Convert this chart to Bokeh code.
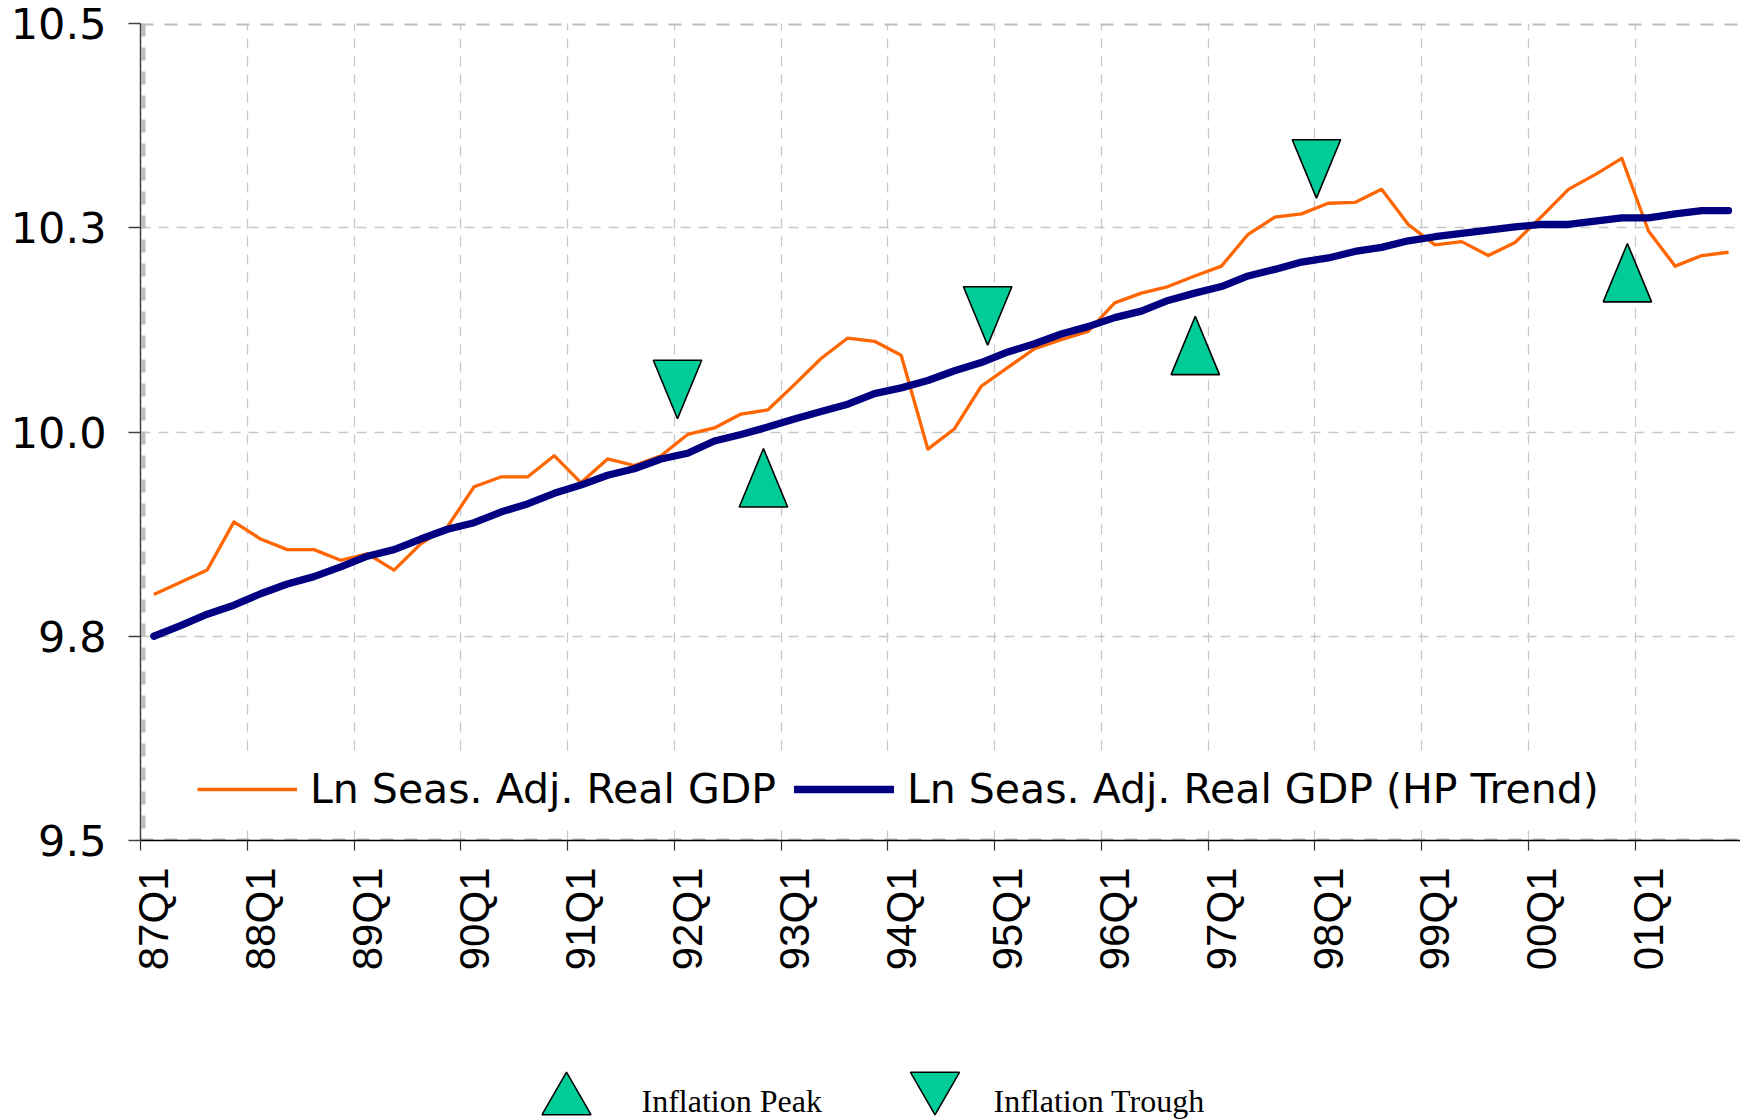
import math
from bokeh.plotting import figure
from bokeh.models import (Range1d, FixedTicker, LinearAxis, Span, Legend, LegendItem,
                          PrintfTickFormatter)
from bokeh.layouts import column
from bokeh.core.properties import value
from bokeh.embed import file_html
from bokeh.resources import INLINE

# ---------------- data ----------------
year_labels = ["87Q1", "88Q1", "89Q1", "90Q1", "91Q1", "92Q1", "93Q1", "94Q1",
               "95Q1", "96Q1", "97Q1", "98Q1", "99Q1", "00Q1", "01Q1"]

gdp = [9.801, 9.816, 9.831, 9.890, 9.869, 9.856, 9.856, 9.843,
       9.851, 9.831, 9.863, 9.884, 9.933, 9.945, 9.945, 9.971,
       9.938, 9.967, 9.959, 9.971, 9.997, 10.005, 10.022, 10.027,
       10.058, 10.090, 10.115, 10.111, 10.094, 9.979, 10.004, 10.056,
       10.079, 10.102, 10.113, 10.123, 10.158, 10.170, 10.178, 10.191,
       10.203, 10.242, 10.263, 10.267, 10.280, 10.281, 10.297, 10.254,
       10.229, 10.233, 10.216, 10.232, 10.264, 10.297, 10.315, 10.335,
       10.246, 10.203, 10.216, 10.220]

trend = [9.750, 9.763, 9.777, 9.788, 9.802, 9.814, 9.823, 9.835,
         9.848, 9.856, 9.869, 9.881, 9.889, 9.902, 9.912, 9.925,
         9.935, 9.947, 9.955, 9.967, 9.974, 9.989, 9.997, 10.006,
         10.016, 10.025, 10.034, 10.047, 10.054, 10.063, 10.075, 10.085,
         10.098, 10.108, 10.120, 10.129, 10.140, 10.148, 10.161, 10.170,
         10.178, 10.191, 10.199, 10.208, 10.213, 10.221, 10.226, 10.234,
         10.239, 10.243, 10.247, 10.251, 10.254, 10.254, 10.258, 10.262,
         10.262, 10.267, 10.271, 10.271]

# inflation turning points (position in quarters from 87Q1, level)
peak_x = [22.84, 39.02, 55.21]
peak_y = [9.944, 10.106, 10.195]
trough_x = [19.62, 31.24, 43.56]
trough_y = [10.052, 10.142, 10.322]

y_ticks = [9.5, 9.75, 10.0, 10.25, 10.5]

# ---------------- layout constants ----------------
W = 1740
H_MAIN = 1008
H_LEG = 112
LEFT = 140
TOP = 23
FRAME_H = 817
QW = 26.69            # px per quarter
YPX = FRAME_H / 1.0   # px per unit

ORANGE = "#FF6600"
NAVY = "#000080"
TEAL = "#00CC99"

n = len(gdp)
xs = list(range(n))
frame_w = W - LEFT
x_end = -0.5 + frame_w / QW

p = figure(width=W, height=H_MAIN, x_range=Range1d(-0.5, x_end),
           y_range=Range1d(9.5, 10.5), toolbar_location=None,
           output_backend="svg", min_border_left=LEFT, min_border_right=0,
           min_border_top=TOP, min_border_bottom=H_MAIN - TOP - FRAME_H)
p.outline_line_color = None
p.background_fill_color = "white"
p.border_fill_color = "white"

year_pos = [4 * k for k in range(len(year_labels))]
bounds = [4 * k - 0.5 for k in range(len(year_labels))]

# grids
p.xgrid.ticker = FixedTicker(ticks=bounds[1:])
p.ygrid.ticker = FixedTicker(ticks=[9.75, 10.0, 10.25])
for g in (p.xgrid, p.ygrid):
    g.grid_line_color = "#C8C8C8"
    g.grid_line_width = 1.3
    g.grid_line_dash = "10 8"

# plot-area border (dashed grey)
border_kw = dict(line_color="#BDBDBD", line_width=4, line_dash="13 11", level="underlay")
p.add_layout(Span(location=10.5, dimension="width", **border_kw))
p.add_layout(Span(location=9.5, dimension="width", **border_kw))
p.add_layout(Span(location=-0.5 + 3.0 / QW, dimension="height", **border_kw))

# y axis
ya = p.yaxis[0]
ya.ticker = FixedTicker(ticks=y_ticks)
ya.formatter = PrintfTickFormatter(format="%.1f")
ya.axis_line_color = "#404040"
ya.axis_line_width = 1.5
ya.major_tick_out = 12
ya.major_tick_in = 0
ya.major_tick_line_color = "#404040"
ya.major_tick_line_width = 1.5
ya.minor_tick_line_color = None
ya.major_label_standoff = 22
ya.major_label_text_font = "DejaVu Sans"
ya.major_label_text_font_size = "43px"
ya.major_label_text_color = "black"

# x axis 1: tick marks at year boundaries
xa = p.xaxis[0]
xa.ticker = FixedTicker(ticks=bounds)
xa.axis_line_color = "black"
xa.axis_line_width = 1.5
xa.major_tick_out = 10
xa.major_tick_in = 0
xa.major_tick_line_color = "#303030"
xa.major_tick_line_width = 1.2
xa.minor_tick_line_color = None
xa.major_label_text_font_size = "0px"
xa.major_label_standoff = 0
xa.major_label_overrides = {b: "" for b in bounds}

# x axis 2: year labels at Q1 centres
xa2 = LinearAxis(ticker=FixedTicker(ticks=year_pos),
                 major_label_overrides={pos: lab for pos, lab in zip(year_pos, year_labels)})
xa2.axis_line_color = None
xa2.major_tick_line_color = None
xa2.minor_tick_line_color = None
xa2.major_tick_out = 0
xa2.major_tick_in = 0
xa2.major_label_orientation = math.pi / 2
xa2.major_label_standoff = 17
xa2.major_label_text_font = "Liberation Sans"
xa2.major_label_text_font_size = "42px"
xa2.major_label_text_color = "black"
p.add_layout(xa2, "below")

# series
r_gdp = p.line(xs, gdp, line_color=ORANGE, line_width=3.3, line_join="round")
r_trend = p.line(xs, trend, line_color=NAVY, line_width=7.3, line_join="round",
                 line_cap="round")

# inflation turning point triangles
HW = 24.2 / QW
HH = 29.2 / YPX
up_xs = [[x - HW, x + HW, x] for x in peak_x]
up_ys = [[y - HH, y - HH, y + HH] for y in peak_y]
dn_xs = [[x - HW, x + HW, x] for x in trough_x]
dn_ys = [[y + HH, y + HH, y - HH] for y in trough_y]
p.patches(up_xs, up_ys, fill_color=TEAL, line_color="black", line_width=1.6)
p.patches(dn_xs, dn_ys, fill_color=TEAL, line_color="black", line_width=1.6)

legend = Legend(items=[LegendItem(label="Ln Seas. Adj. Real GDP", renderers=[r_gdp]),
                       LegendItem(label="Ln Seas. Adj. Real GDP (HP Trend)", renderers=[r_trend])],
                orientation="horizontal", location=(45, 15), margin=0, padding=12,
                spacing=18, glyph_width=100, glyph_height=48, label_height=48,
                label_standoff=13, border_line_alpha=0,
                background_fill_color="white", background_fill_alpha=1.0,
                label_text_font="DejaVu Sans", label_text_font_size="41px",
                label_text_color="black")
p.add_layout(legend)

# ---------------- bottom key ----------------
# (the column aligns this figure's frame with the main plot frame: x = page px)
k = figure(width=W, height=H_LEG, x_range=Range1d(LEFT, W), y_range=Range1d(H_LEG, 0),
           toolbar_location=None, output_backend="svg", min_border=0,
           min_border_left=LEFT, x_axis_type=None, y_axis_type=None)
k.outline_line_color = None
k.grid.visible = False
k.scatter(x=[566], y=[92], marker="triangle", size=49, fill_color=TEAL,
          line_color="black", line_width=1.5)
k.scatter(x=[934.5], y=[78], marker="inverted_triangle", size=49, fill_color=TEAL,
          line_color="black", line_width=1.5)
k.text(x=[641, 993], y=[92, 92], text=["Inflation Peak", "Inflation Trough"],
       text_font=value("Liberation Serif"), text_font_size="32px",
       text_baseline="middle", text_align="left", text_color="black")

layout = column(p, k, spacing=0)
open("out.html", "w").write(file_html(layout, INLINE))
